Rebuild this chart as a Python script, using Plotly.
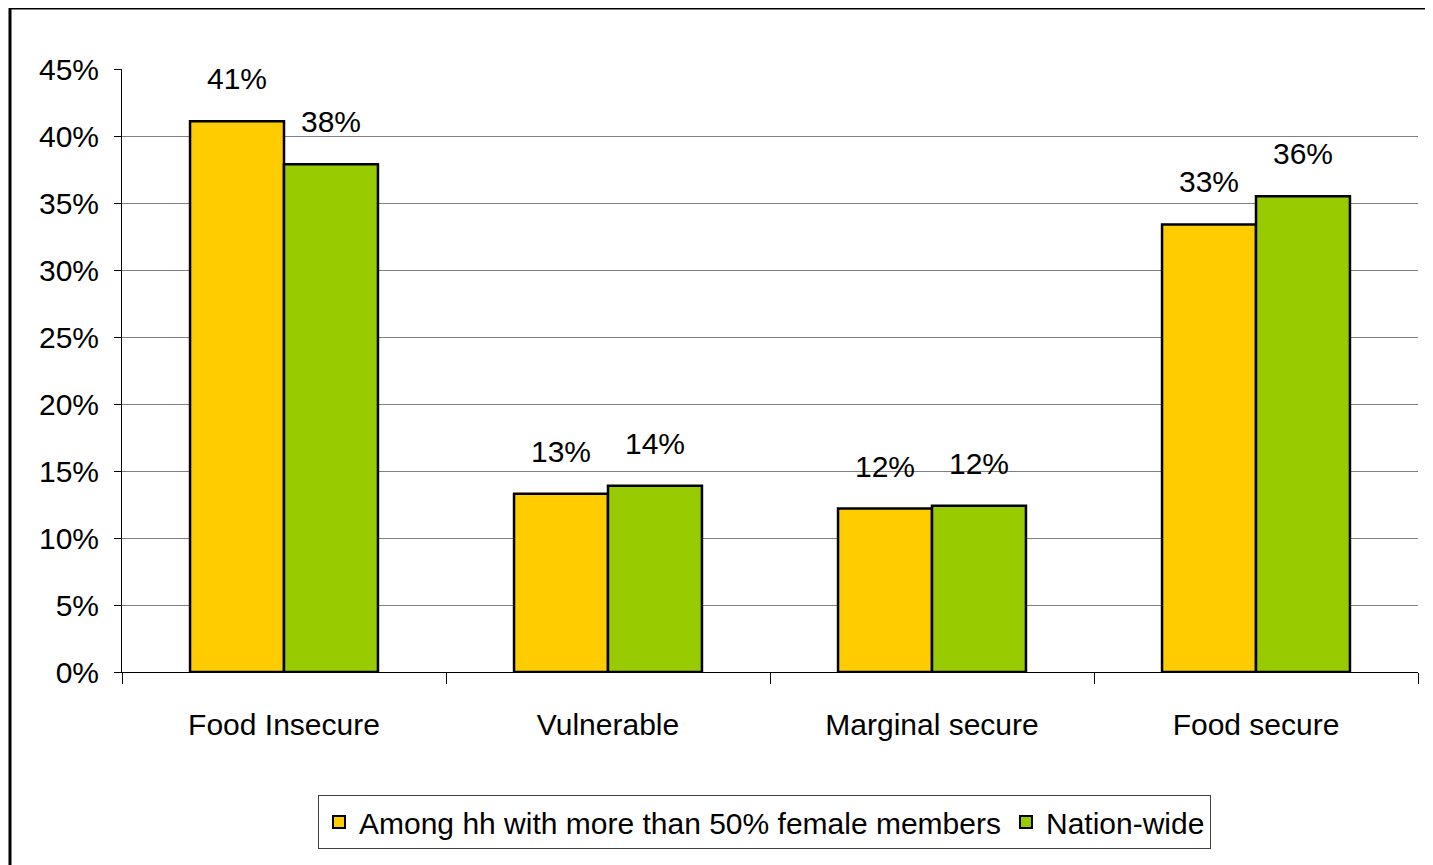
import plotly.graph_objects as go

categories = ["Food Insecure", "Vulnerable", "Marginal secure", "Food secure"]
female_hh = [0.411, 0.133, 0.122, 0.334]
nation_wide = [0.379, 0.139, 0.124, 0.355]
series_names = ["Among hh with more than 50% female members", "Nation-wide"]
y_ticks = [0, 0.05, 0.10, 0.15, 0.20, 0.25, 0.30, 0.35, 0.40, 0.45]

# page body has an 8px margin; figure coordinates are offset by it
OFF = 8
W, H = 1433 - OFF, 865 - OFF
ML, MR, MT, MB = 122 - OFF, 1433 - 1418, 69 - OFF, 865 - 672
plot_w = W - ML - MR
plot_h = H - MT - MB
BARGAP = 0.42
FONT = "Liberation Sans, Arial, sans-serif"
FS = 30

fig = go.Figure()
colors = ["#FFCC00", "#99CC00"]
for name, vals, col in zip(series_names, [female_hh, nation_wide], colors):
    fig.add_trace(go.Bar(
        x=categories, y=vals, name=name,
        marker=dict(color=col, line=dict(color="black", width=2.5)),
    ))

# data labels
cat_px = plot_w / len(categories)
bar_px = cat_px * (1 - BARGAP) / 2
for i, vals in enumerate([female_hh, nation_wide]):
    shift = (i - 0.5) * bar_px
    for c, v in zip(categories, vals):
        fig.add_annotation(
            x=c, y=v, text=f"{round(v*100):d}%", showarrow=False,
            xanchor="center", yanchor="bottom", xshift=shift, yshift=24,
            font=dict(family=FONT, size=FS, color="black"),
        )

# outer border (page px -> paper coords)
def px_x(p):
    return (p - OFF - ML) / plot_w

def px_y(p):
    return (H - MB - (p - OFF)) / plot_h

fig.add_shape(
    type="rect", xref="paper", yref="paper",
    x0=px_x(10), x1=px_x(1460), y0=px_y(890), y1=px_y(8),
    line=dict(color="black", width=3), fillcolor="rgba(0,0,0,0)", layer="below",
)

fig.update_layout(
    width=W, height=H,
    margin=dict(l=ML, r=MR, t=MT, b=MB),
    paper_bgcolor="white", plot_bgcolor="white",
    barmode="group", bargap=BARGAP, bargroupgap=0,
    font=dict(family=FONT, size=FS, color="black"),
    showlegend=True,
    legend=dict(
        orientation="h", x=px_x(318), y=px_y(795),
        xanchor="left", yanchor="top",
        bordercolor="#404040", borderwidth=1, bgcolor="white",
        font=dict(family=FONT, size=FS, color="black"),
        itemsizing="constant",
    ),
    xaxis=dict(
        type="category", tickson="boundaries", ticks="outside", ticklen=11,
        tickcolor="black", showline=True, linecolor="black", linewidth=1,
        showgrid=False, tickfont=dict(family=FONT, size=FS),
        ticklabelstandoff=26,
    ),
    yaxis=dict(
        range=[0, 0.45], tickvals=y_ticks, tickformat=".0%",
        ticks="outside", ticklen=7, tickcolor="black",
        showline=True, linecolor="black", linewidth=1,
        showgrid=True, gridcolor="#808080", gridwidth=1,
        zeroline=False, tickfont=dict(family=FONT, size=FS),
        ticklabelstandoff=9,
    ),
)

fig.write_html("out.html")
